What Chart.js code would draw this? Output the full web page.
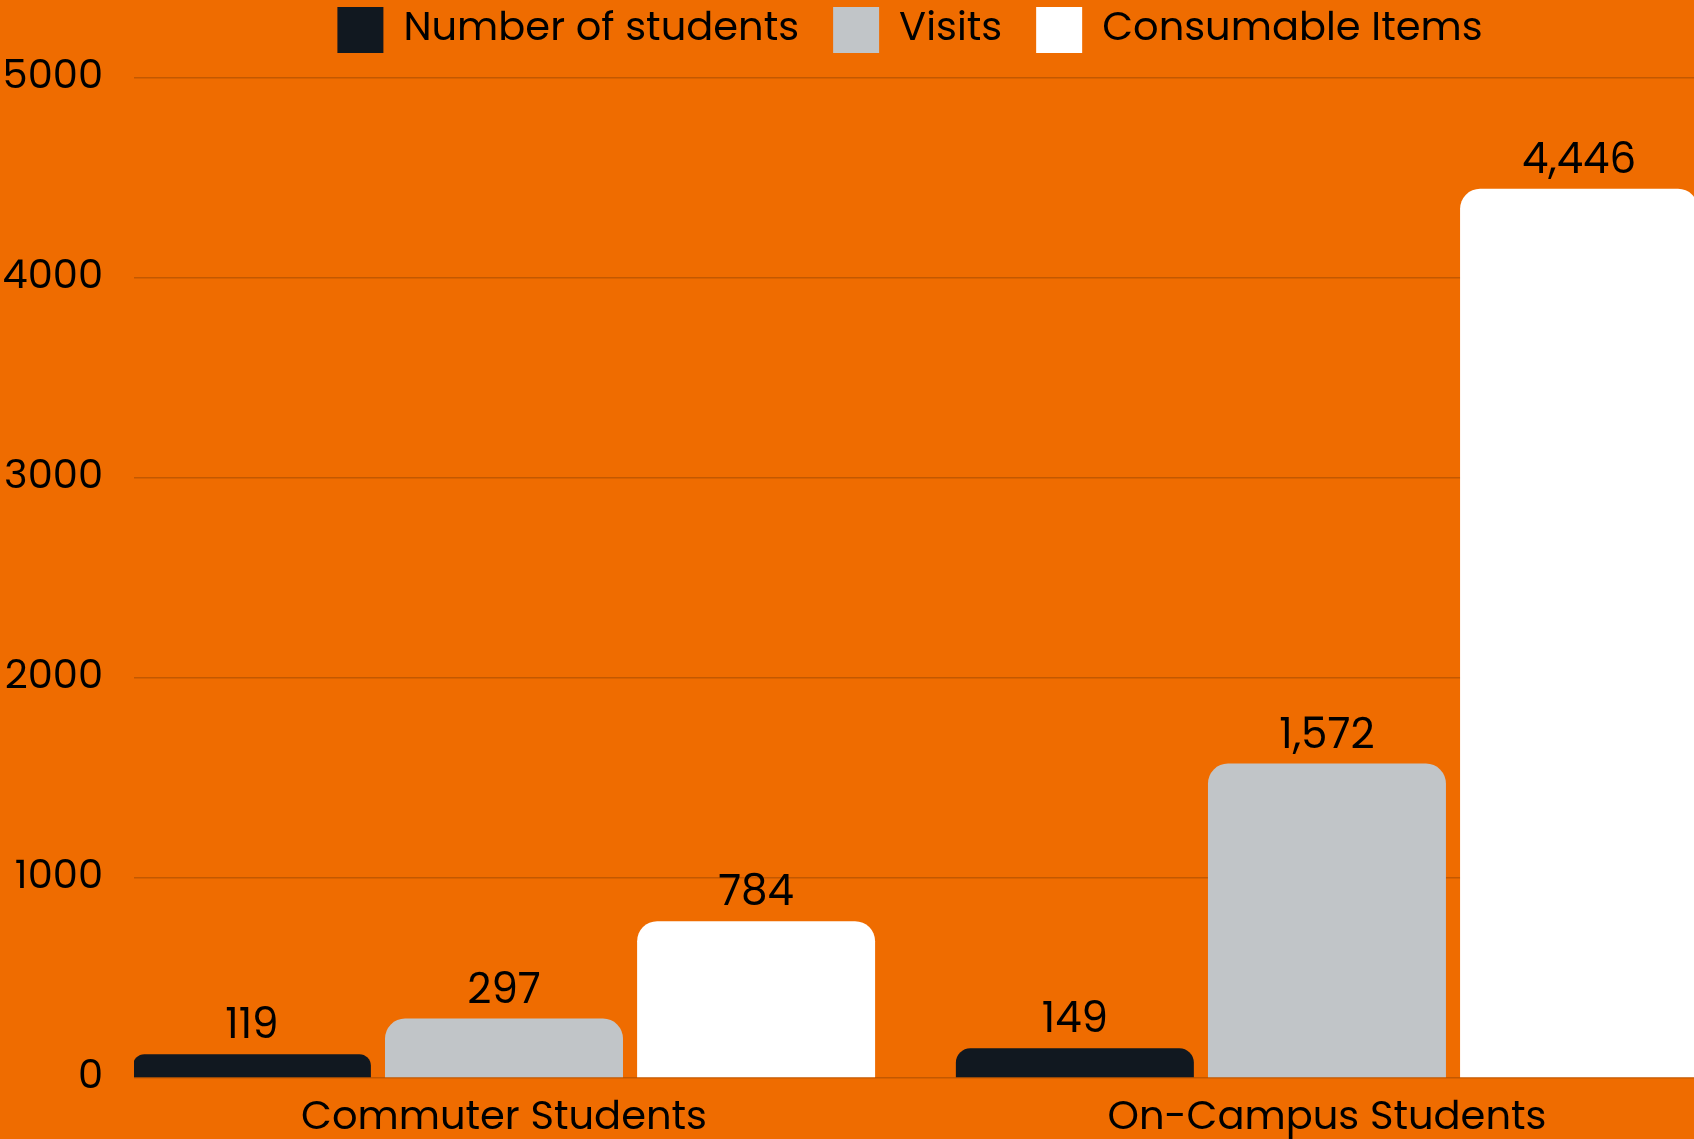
<!DOCTYPE html>
<html>
<head>
<meta charset="utf-8">
<script src="https://cdn.jsdelivr.net/npm/chart.js@4/dist/chart.umd.min.js"></script>
<style>
  html, body { margin: 0; padding: 0; background: #EF6C00; overflow: hidden; }
  #chart { display: block; }
</style>
</head>
<body>
<canvas id="chart" width="1694" height="1139"></canvas>
<script>
const categories = ['Commuter Students', 'On-Campus Students'];
const seriesNames = ['Number of students', 'Visits', 'Consumable Items'];
const studentsValues = [119, 149];
const visitsValues = [297, 1572];
const consumableValues = [784, 4446];
const yTicks = [0, 1000, 2000, 3000, 4000, 5000];

const FONT = '"Poppins", "Open Sans", sans-serif';

// bars sit on a linear x scale so the groups line up like the original
const toPoints = (vals) => vals.map((v, i) => ({ x: i, y: v }));

const valueLabels = {
  id: 'valueLabels',
  afterDatasetsDraw(chart) {
    const ctx = chart.ctx;
    ctx.save();
    ctx.font = '42px ' + FONT;
    ctx.fillStyle = '#000';
    ctx.textAlign = 'center';
    ctx.textBaseline = 'alphabetic';
    chart.data.datasets.forEach((ds, di) => {
      const meta = chart.getDatasetMeta(di);
      meta.data.forEach((bar, i) => {
        ctx.fillText(ds.data[i].y.toLocaleString('en-US'), bar.x, bar.y - 16);
      });
    });
    ctx.restore();
  }
};

// legend sits tight at the top and is centred a bit left of the canvas middle
const legendTweak = {
  id: 'legendTweak',
  beforeLayout(chart) {
    const lg = chart.legend;
    if (lg && !lg._tweaked) {
      const fit = lg.fit;
      lg.fit = function () { fit.call(this); this.height = 78; };
      lg._tweaked = true;
    }
  },
  afterLayout(chart) {
    const lg = chart.legend;
    lg.top = -27;
    lg.right = lg.right + 126;
  }
};

const ctx = document.getElementById('chart').getContext('2d');
new Chart(ctx, {
  type: 'bar',
  data: {
    datasets: [
      { label: seriesNames[0], data: toPoints(studentsValues), backgroundColor: '#111820' },
      { label: seriesNames[1], data: toPoints(visitsValues), backgroundColor: '#C1C5C8' },
      { label: seriesNames[2], data: toPoints(consumableValues), backgroundColor: '#FFFFFF' },
    ],
  },
  options: {
    responsive: false,
    animation: false,
    layout: { padding: 0 },
    datasets: {
      bar: {
        categoryPercentage: 0.919,
        barPercentage: 0.944,
        borderRadius: { topLeft: 20, topRight: 20 },
        borderSkipped: 'start',
      },
    },
    plugins: {
      tooltip: { enabled: false },
      legend: {
        position: 'top',
        labels: {
          color: '#000',
          font: { family: FONT, size: 40 },
          boxWidth: 46,
          boxHeight: 46,
          padding: 34,
        },
      },
    },
    scales: {
      x: {
        type: 'linear',
        offset: false,
        min: -0.4496,
        max: 1.446,
        grid: { display: false, offset: false },
        border: { display: false },
        afterBuildTicks: (scale) => {
          scale.ticks = categories.map((c, i) => ({ value: i }));
        },
        afterFit: (scale) => { scale.height = 61; },
        ticks: {
          autoSkip: false,
          maxRotation: 0,
          padding: 9,
          color: '#000',
          font: { family: FONT, size: 40 },
          callback: (v) => categories[v],
        },
      },
      y: {
        min: 0,
        max: 5000,
        afterBuildTicks: (scale) => {
          scale.ticks = yTicks.map((v) => ({ value: v }));
        },
        afterFit: (scale) => { scale.width = 134; },
        grid: { color: '#C35800', lineWidth: 1.5, drawTicks: false },
        border: { display: false },
        ticks: {
          padding: 31,
          color: '#000',
          font: { family: FONT, size: 40 },
          callback: (v) => String(v),
        },
      },
    },
  },
  plugins: [valueLabels, legendTweak],
});
</script>
</body>
</html>
